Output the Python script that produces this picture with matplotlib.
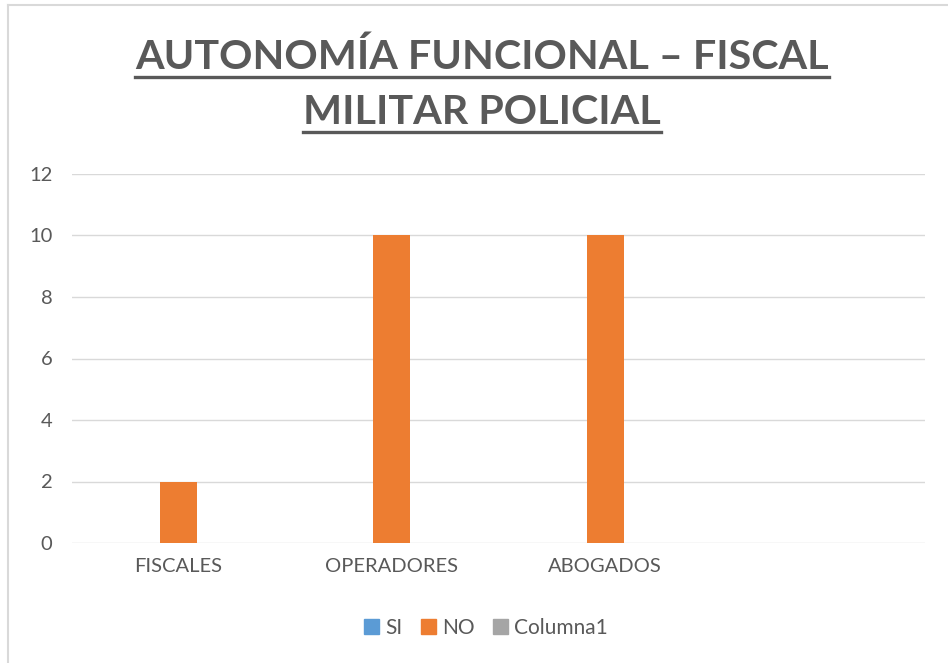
import matplotlib
matplotlib.use("Agg")
import matplotlib.pyplot as plt
from matplotlib.lines import Line2D
from matplotlib.patches import Patch
import numpy as np

plt.rcParams['font.family'] = ['Lato', 'DejaVu Sans']

categories = ["FISCALES", "OPERADORES", "ABOGADOS", ""]
si_values = [0, 0, 0, 0]
no_values = [2, 10, 10, 0]
col1_values = [np.nan, np.nan, np.nan, np.nan]
title_lines = ["AUTONOMÍA FUNCIONAL – FISCAL", "MILITAR POLICIAL"]

c_si = "#5b9bd5"
c_no = "#ed7d31"
c_col1 = "#a5a5a5"
txt = "#595959"

fig = plt.figure(figsize=(9.48, 6.63), dpi=100)
ax = fig.add_axes([72 / 948, 1 - 543 / 663, (925 - 72) / 948, (543 - 174) / 663])

x = np.arange(len(categories))
w = 0.174
ax.bar(x - w, si_values, w, color=c_si)
ax.bar(x, no_values, w, color=c_no)
ax.bar(x + w, col1_values, w, color=c_col1)

ax.set_xlim(-0.5, len(categories) - 0.5)
ax.set_ylim(0, 12)
ax.set_yticks(range(0, 13, 2))
ax.set_xticks(x)
ax.set_xticklabels(categories)
ax.grid(axis='y', color='#d9d9d9', linewidth=1)
ax.set_axisbelow(True)
for s in ax.spines.values():
    s.set_visible(False)
ax.tick_params(length=0, labelsize=14.5, colors=txt, pad=14)
ax.tick_params(axis='x', pad=11)

# title with underline
title_y = [57 / 663, 112 / 663]
fig.canvas.draw()
r = fig.canvas.get_renderer()
for line, yy in zip(title_lines, title_y):
    t = fig.text(482 / 948, 1 - yy, line, ha='center', va='center',
                 fontsize=29.7, fontweight='bold', color=txt)
    bb = t.get_window_extent(renderer=r).transformed(fig.transFigure.inverted())
    uy = 1 - (yy + 20 / 663)
    fig.add_artist(Line2D([bb.x0, bb.x1], [uy, uy], transform=fig.transFigure,
                          color=txt, linewidth=2.4))

handles = [Patch(color=c_si, label="SI"), Patch(color=c_no, label="NO"),
           Patch(color=c_col1, label="Columna1")]
leg = fig.legend(handles=handles, loc='center', bbox_to_anchor=(486 / 948, 1 - 628 / 663),
                 ncol=3, frameon=False, fontsize=15, handlelength=0.7, handleheight=0.7,
                 handletextpad=0.3, columnspacing=0.9)
for tx in leg.get_texts():
    tx.set_color(txt)

# chart border
fig.add_artist(Line2D([8 / 948, 8 / 948], [0, 1 - 5 / 663], transform=fig.transFigure,
                      color='#d9d9d9', linewidth=1.5))
fig.add_artist(Line2D([8 / 948, 1], [1 - 5 / 663, 1 - 5 / 663], transform=fig.transFigure,
                      color='#d9d9d9', linewidth=1.5))

fig.savefig("out.png", dpi=100)
